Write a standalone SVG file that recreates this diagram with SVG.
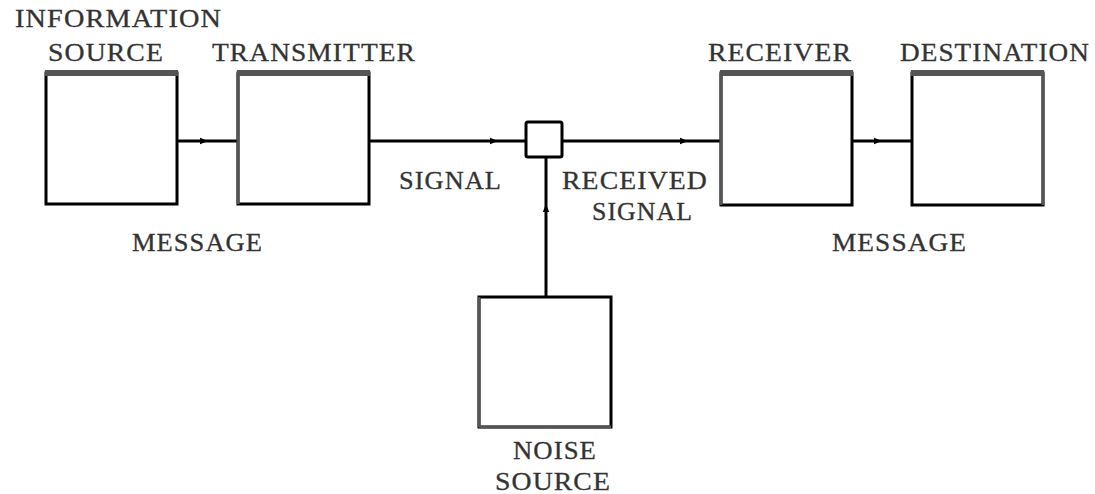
<svg xmlns="http://www.w3.org/2000/svg" width="1095" height="494" viewBox="0 0 1095 494">
<defs>
<style>
.box{fill:#fff;stroke:#000;stroke-width:3}
.shade{stroke:#555;stroke-width:6;fill:none}
.shadev{stroke:#555;stroke-width:3;fill:none}
.conn{stroke:#000;stroke-width:3;fill:none;marker-mid:url(#ah)}
.lbl{font-family:"Liberation Serif","DejaVu Serif",serif;font-size:25px;fill:#333;stroke:#333;stroke-width:0.3;letter-spacing:1px}
</style>
<marker id="ah" viewBox="0 0 10 10" refX="5" refY="5" markerWidth="8" markerHeight="8" markerUnits="userSpaceOnUse" orient="auto">
<path d="M0,1 L10,5 L0,9 Z" fill="#000"/>
</marker>
</defs>
<rect width="1095" height="494" fill="#fff"/>
<g id="connectors">
<path class="conn" d="M177,141 L204,141 L238,141"/>
<path class="conn" d="M369,141 L494,141 L526,141"/>
<path class="conn" d="M562,141 L684,141 L721,141"/>
<path class="conn" d="M852,141 L878,141 L912,141"/>
<path class="conn" d="M546,297 L546,208 L546,157"/>
</g>
<g id="info-source">
<rect class="box" x="46" y="73" width="131" height="131"/>
<line class="shade" x1="45" y1="73" x2="178" y2="73"/>
<text class="lbl" x="15" y="27" textLength="207" lengthAdjust="spacingAndGlyphs">INFORMATION</text>
<text class="lbl" x="48" y="61" textLength="116" lengthAdjust="spacingAndGlyphs">SOURCE</text>
</g>
<g id="transmitter">
<rect class="box" x="238" y="73" width="131" height="131"/>
<line class="shade" x1="237" y1="73" x2="370" y2="73"/>
<line class="shadev" x1="238" y1="73" x2="238" y2="204"/>
<text class="lbl" x="212" y="61" textLength="204" lengthAdjust="spacingAndGlyphs">TRANSMITTER</text>
</g>
<g id="junction">
<rect class="box" x="526" y="122" width="36" height="35" rx="2"/>
</g>
<g id="receiver">
<rect class="box" x="721" y="73" width="131" height="132"/>
<line class="shade" x1="720" y1="73" x2="853" y2="73"/>
<line class="shadev" x1="721" y1="73" x2="721" y2="205"/>
<text class="lbl" x="708" y="61" textLength="144" lengthAdjust="spacingAndGlyphs">RECEIVER</text>
</g>
<g id="destination">
<rect class="box" x="912" y="73" width="131" height="132"/>
<line class="shade" x1="911" y1="73" x2="1044" y2="73"/>
<line class="shadev" x1="1043" y1="73" x2="1043" y2="205"/>
<text class="lbl" x="900" y="61" textLength="190" lengthAdjust="spacingAndGlyphs">DESTINATION</text>
</g>
<g id="noise-source">
<rect class="box" x="479" y="297" width="132" height="130"/>
<line class="shadev" x1="479" y1="297" x2="479" y2="427"/>
<line class="shadev" x1="479" y1="427" x2="611" y2="427"/>
<text class="lbl" x="513" y="459" textLength="84" lengthAdjust="spacingAndGlyphs">NOISE</text>
<text class="lbl" x="495" y="490" textLength="116" lengthAdjust="spacingAndGlyphs">SOURCE</text>
</g>
<g id="labels">
<text class="lbl" x="132" y="251" textLength="131" lengthAdjust="spacingAndGlyphs">MESSAGE</text>
<text class="lbl" x="399" y="189" textLength="103" lengthAdjust="spacingAndGlyphs">SIGNAL</text>
<text class="lbl" x="562" y="189" textLength="146" lengthAdjust="spacingAndGlyphs">RECEIVED</text>
<text class="lbl" x="592" y="220" textLength="101" lengthAdjust="spacingAndGlyphs">SIGNAL</text>
<text class="lbl" x="832" y="251" textLength="135" lengthAdjust="spacingAndGlyphs">MESSAGE</text>
</g>
</svg>
